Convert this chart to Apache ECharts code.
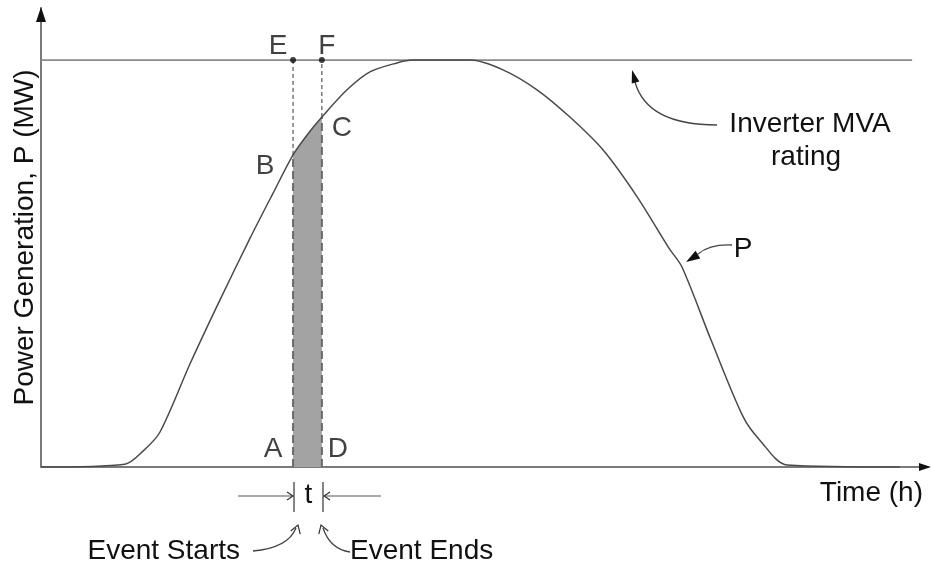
<!DOCTYPE html>
<html><head><meta charset="utf-8">
<script src="https://cdn.jsdelivr.net/npm/echarts@6/dist/echarts.min.js"></script>
<style>html,body{margin:0;padding:0;background:#fff}#c{width:932px;height:565px}</style>
</head><body><div id="c"></div>
<script>
// ---- data (time in hours, power in MW; inverter rating = 100) ----
const timeH   = [0, 2.27, 2.76, 3.22, 4.03, 4.84, 5.66, 6.28, 6.82, 7.20, 7.60, 8.28, 8.90, 9.63, 10.07, 11.61, 12.50, 13.42, 14.31, 15.21, 16.13, 16.99, 17.34, 18.13, 19.00, 19.45, 20.19, 23.24];
const powerMW = [0, 0.7, 3.9, 8.6, 25.3, 41.0, 56.3, 67.3, 76.7, 81.6, 86.0, 92.7, 97.1, 99.3, 100, 100, 97.6, 92.7, 86.0, 77.9, 66.4, 53.8, 49.2, 31.2, 12.3, 6.6, 0.5, 0];
const ratingMW = 100;
const ratingEndH = 23.57;
const eventStartH = 6.82;
const eventEndH = 7.60;
const shadeTime = [6.82, 7.20, 7.60];
const shadePower = [76.7, 81.6, 86.0];
const pointNames = ['E', 'F', 'B', 'C', 'A', 'D'];
const pointTime = [6.82, 7.60, 6.82, 7.60, 6.82, 7.60];
const pointPower = [100, 100, 76.7, 86.0, 0, 0];

const FONT = '"Liberation Sans", Arial, sans-serif';
const FS = 28;
const chart = echarts.init(document.getElementById('c'), null, {renderer: 'canvas'});

const labelOffsets = {E: [-15, -14], F: [5, -14], B: [-28, 11], C: [20, 11], A: [-20, -18], D: [16, -18]};
const dotSize = {E: 6, F: 6, B: 0, C: 0, A: 0, D: 0};

function head(tx, ty, ang, len, w) {
  const bx = tx - len * Math.cos(ang), by = ty - len * Math.sin(ang);
  const px = -Math.sin(ang) * w / 2, py = Math.cos(ang) * w / 2;
  return {type: 'polygon', shape: {points: [[tx, ty], [bx + px, by + py], [bx - px, by - py]]}, style: {fill: '#111'}, z: 20};
}
function chevron(tx, ty, ang, len, w) {
  const bx = tx - len * Math.cos(ang), by = ty - len * Math.sin(ang);
  const px = -Math.sin(ang) * w / 2, py = Math.cos(ang) * w / 2;
  return {type: 'polyline', shape: {points: [[bx + px, by + py], [tx, ty], [bx - px, by - py]]}, style: {stroke: '#333', lineWidth: 1.2, fill: null}, z: 20};
}
function txt(t, x, y, align) {
  return {type: 'text', x: x, y: y, z: 20, style: {text: t, font: FS + 'px ' + FONT, fill: '#111', align: align || 'center', verticalAlign: 'middle'}};
}
function curve(x1, y1, cx, cy, x2, y2) {
  return {type: 'bezierCurve', shape: {x1: x1, y1: y1, cpx1: cx, cpy1: cy, x2: x2, y2: y2}, style: {stroke: '#444', lineWidth: 1.3, fill: null}, z: 20};
}

const option = {
  animation: false,
  backgroundColor: '#fff',
  grid: {left: 41, right: 4, top: 8, bottom: 98, containLabel: false},
  xAxis: {
    type: 'value', min: 0, max: 24,
    axisLine: {show: true, onZero: false, lineStyle: {color: '#7a7a7a', width: 2}},
    axisTick: {show: false}, axisLabel: {show: false}, splitLine: {show: false},
    name: 'Time (h)', nameLocation: 'end', nameGap: -5,
    nameTextStyle: {fontFamily: FONT, fontSize: FS, color: '#111', align: 'right', verticalAlign: 'top', padding: [12, 0, 0, 0]}
  },
  yAxis: {
    type: 'value', min: 0, max: 112.8,
    axisLine: {show: true, onZero: false, lineStyle: {color: '#7a7a7a', width: 2}},
    axisTick: {show: false}, axisLabel: {show: false}, splitLine: {show: false},
    name: 'Power Generation, P (MW)', nameLocation: 'middle', nameGap: 2,
    nameTextStyle: {fontFamily: FONT, fontSize: FS, color: '#111'}
  },
  series: [
    {
      name: 'Shaded energy', type: 'line', data: shadeTime.map((t, i) => [t, shadePower[i]]),
      symbol: 'none', lineStyle: {width: 0}, areaStyle: {color: '#a3a3a3', opacity: 1}, z: 1
    },
    {
      name: 'Inverter MVA rating', type: 'line', data: [[0, ratingMW], [ratingEndH, ratingMW]],
      symbol: 'none', lineStyle: {color: '#8a8a8a', width: 1.8}, z: 2
    },
    {
      name: 'Event start lower', type: 'line', data: [[eventStartH, 0], [eventStartH, shadePower[0]]],
      symbol: 'none', lineStyle: {color: '#6a6a6a', width: 2, type: [8, 4]}, z: 3
    },
    {
      name: 'Event end lower', type: 'line', data: [[eventEndH, 0], [eventEndH, shadePower[shadePower.length - 1]]],
      symbol: 'none', lineStyle: {color: '#6a6a6a', width: 2, type: [8, 4]}, z: 3
    },
    {
      name: 'Event start upper', type: 'line', data: [[eventStartH, shadePower[0]], [eventStartH, ratingMW]],
      symbol: 'none', lineStyle: {color: '#333', width: 1, type: [4, 3]}, z: 3
    },
    {
      name: 'Event end upper', type: 'line', data: [[eventEndH, shadePower[shadePower.length - 1]], [eventEndH, ratingMW]],
      symbol: 'none', lineStyle: {color: '#333', width: 1, type: [4, 3]}, z: 3
    },
    {
      name: 'P', type: 'line', data: timeH.map((t, i) => [t, powerMW[i]]),
      symbol: 'none', smooth: 0.3, lineStyle: {color: '#4a4a4a', width: 1.5}, z: 4
    },
    {
      name: 'Points', type: 'scatter', z: 5,
      data: pointNames.map((n, i) => ({
        name: n, value: [pointTime[i], pointPower[i]], symbolSize: dotSize[n],
        label: {show: true, position: 'inside', offset: labelOffsets[n], formatter: '{b}', fontFamily: FONT, fontSize: FS, color: '#111'}
      })),
      itemStyle: {color: '#111'}
    }
  ]
};
chart.setOption(option);

const pA = chart.convertToPixel({gridIndex: 0}, [eventStartH, 0]);
const pD = chart.convertToPixel({gridIndex: 0}, [eventEndH, 0]);
const pO = chart.convertToPixel({gridIndex: 0}, [0, 0]);
const pX = chart.convertToPixel({gridIndex: 0}, [24, 0]);
const pY = chart.convertToPixel({gridIndex: 0}, [0, 112.8]);
const tx0 = Math.round(pA[0]) + 1, tx1 = Math.round(pD[0]) + 1;

chart.setOption({
  graphic: [
    // axis arrowheads
    head(pX[0] + 3, pO[1], 0, 12, 8),
    head(pO[0], pY[1] - 1, -Math.PI / 2, 15, 10),
    // Inverter MVA rating annotation
    txt('Inverter MVA', 810, 124), txt('rating', 806, 157),
    curve(717, 125, 647, 125, 635, 82), head(632, 70, Math.atan2(-14, -4), 13, 8),
    // P annotation
    txt('P', 743, 249),
    curve(732, 245, 710, 244, 698, 254), head(686, 262, Math.atan2(8, -13), 14, 9),
    // duration t
    {type: 'line', shape: {x1: tx0, y1: 482, x2: tx0, y2: 512}, style: {stroke: '#333', lineWidth: 1.2}, z: 20},
    {type: 'line', shape: {x1: tx1, y1: 482, x2: tx1, y2: 512}, style: {stroke: '#333', lineWidth: 1.2}, z: 20},
    {type: 'line', shape: {x1: 238, y1: 496, x2: tx0 - 1, y2: 496}, style: {stroke: '#555', lineWidth: 1.2}, z: 20},
    {type: 'line', shape: {x1: 381, y1: 496, x2: tx1 + 1, y2: 496}, style: {stroke: '#555', lineWidth: 1.2}, z: 20},
    chevron(tx0 - 1, 496, 0, 6, 8), chevron(tx1 + 1, 496, Math.PI, 6, 8),
    txt('t', (tx0 + tx1) / 2, 495),
    // Event starts / ends
    txt('Event Starts', 240, 551, 'right'), txt('Event Ends', 350, 551, 'left'),
    curve(253, 551, 288, 548, 296, 528), chevron(298, 525, Math.atan2(-9, 3), 8, 10),
    curve(350, 552, 330, 549, 323, 528), chevron(321, 525, Math.atan2(-9, -3), 8, 10)
  ]
});
</script>
</body></html>
